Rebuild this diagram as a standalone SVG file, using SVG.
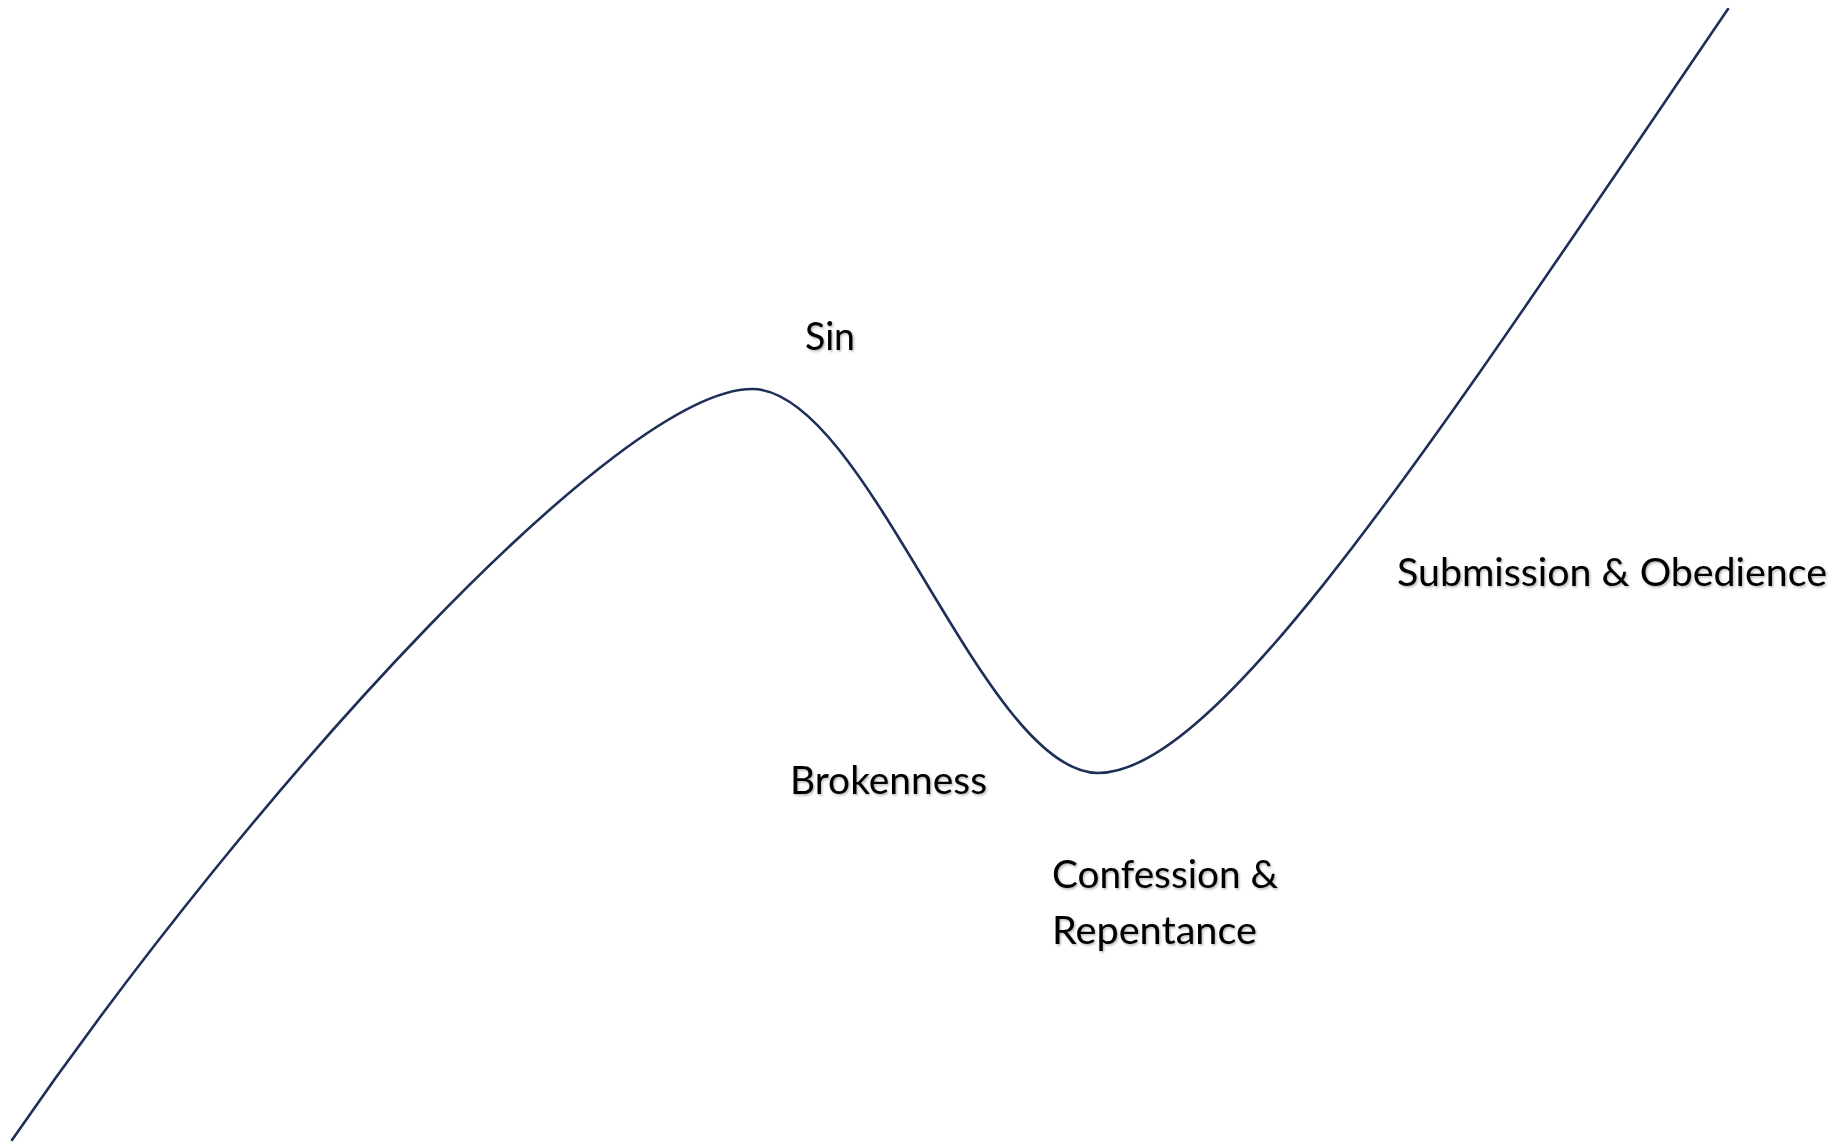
<svg xmlns="http://www.w3.org/2000/svg" width="1844" height="1146" viewBox="0 0 1844 1146">
<defs>
<filter id="sh" x="-1%" y="-10%" width="102%" height="130%">
<feDropShadow dx="1.2" dy="1.5" stdDeviation="0.8" flood-color="#000" flood-opacity="0.3"/>
</filter>
<style>
.lbl{font-family:Lato,"Open Sans","Liberation Sans",sans-serif;font-size:39px;fill:#000;filter:url(#sh)}
.curve{fill:none;stroke:#1f3058;stroke-width:2.6;stroke-linecap:round}
</style>
</defs>
<rect width="1844" height="1146" fill="#fff"/>
<g id="connectors">
<path class="curve" d="M12,1140 C260,780 620,389 752,389 C867,389 983,773 1098,773 C1218,773 1428,450 1728,9"/>
</g>
<g id="sin"><text class="lbl" x="805" y="350" textLength="50" lengthAdjust="spacingAndGlyphs">Sin</text></g>
<g id="brokenness"><text class="lbl" x="790" y="794" textLength="197" lengthAdjust="spacingAndGlyphs">Brokenness</text></g>
<g id="confession"><text class="lbl" x="1052" y="888" textLength="226" lengthAdjust="spacingAndGlyphs">Confession &amp;</text><text class="lbl" x="1052" y="944" textLength="205" lengthAdjust="spacingAndGlyphs">Repentance</text></g>
<g id="submission"><text class="lbl" x="1397" y="586" textLength="430" lengthAdjust="spacingAndGlyphs">Submission &amp; Obedience</text></g>
</svg>
